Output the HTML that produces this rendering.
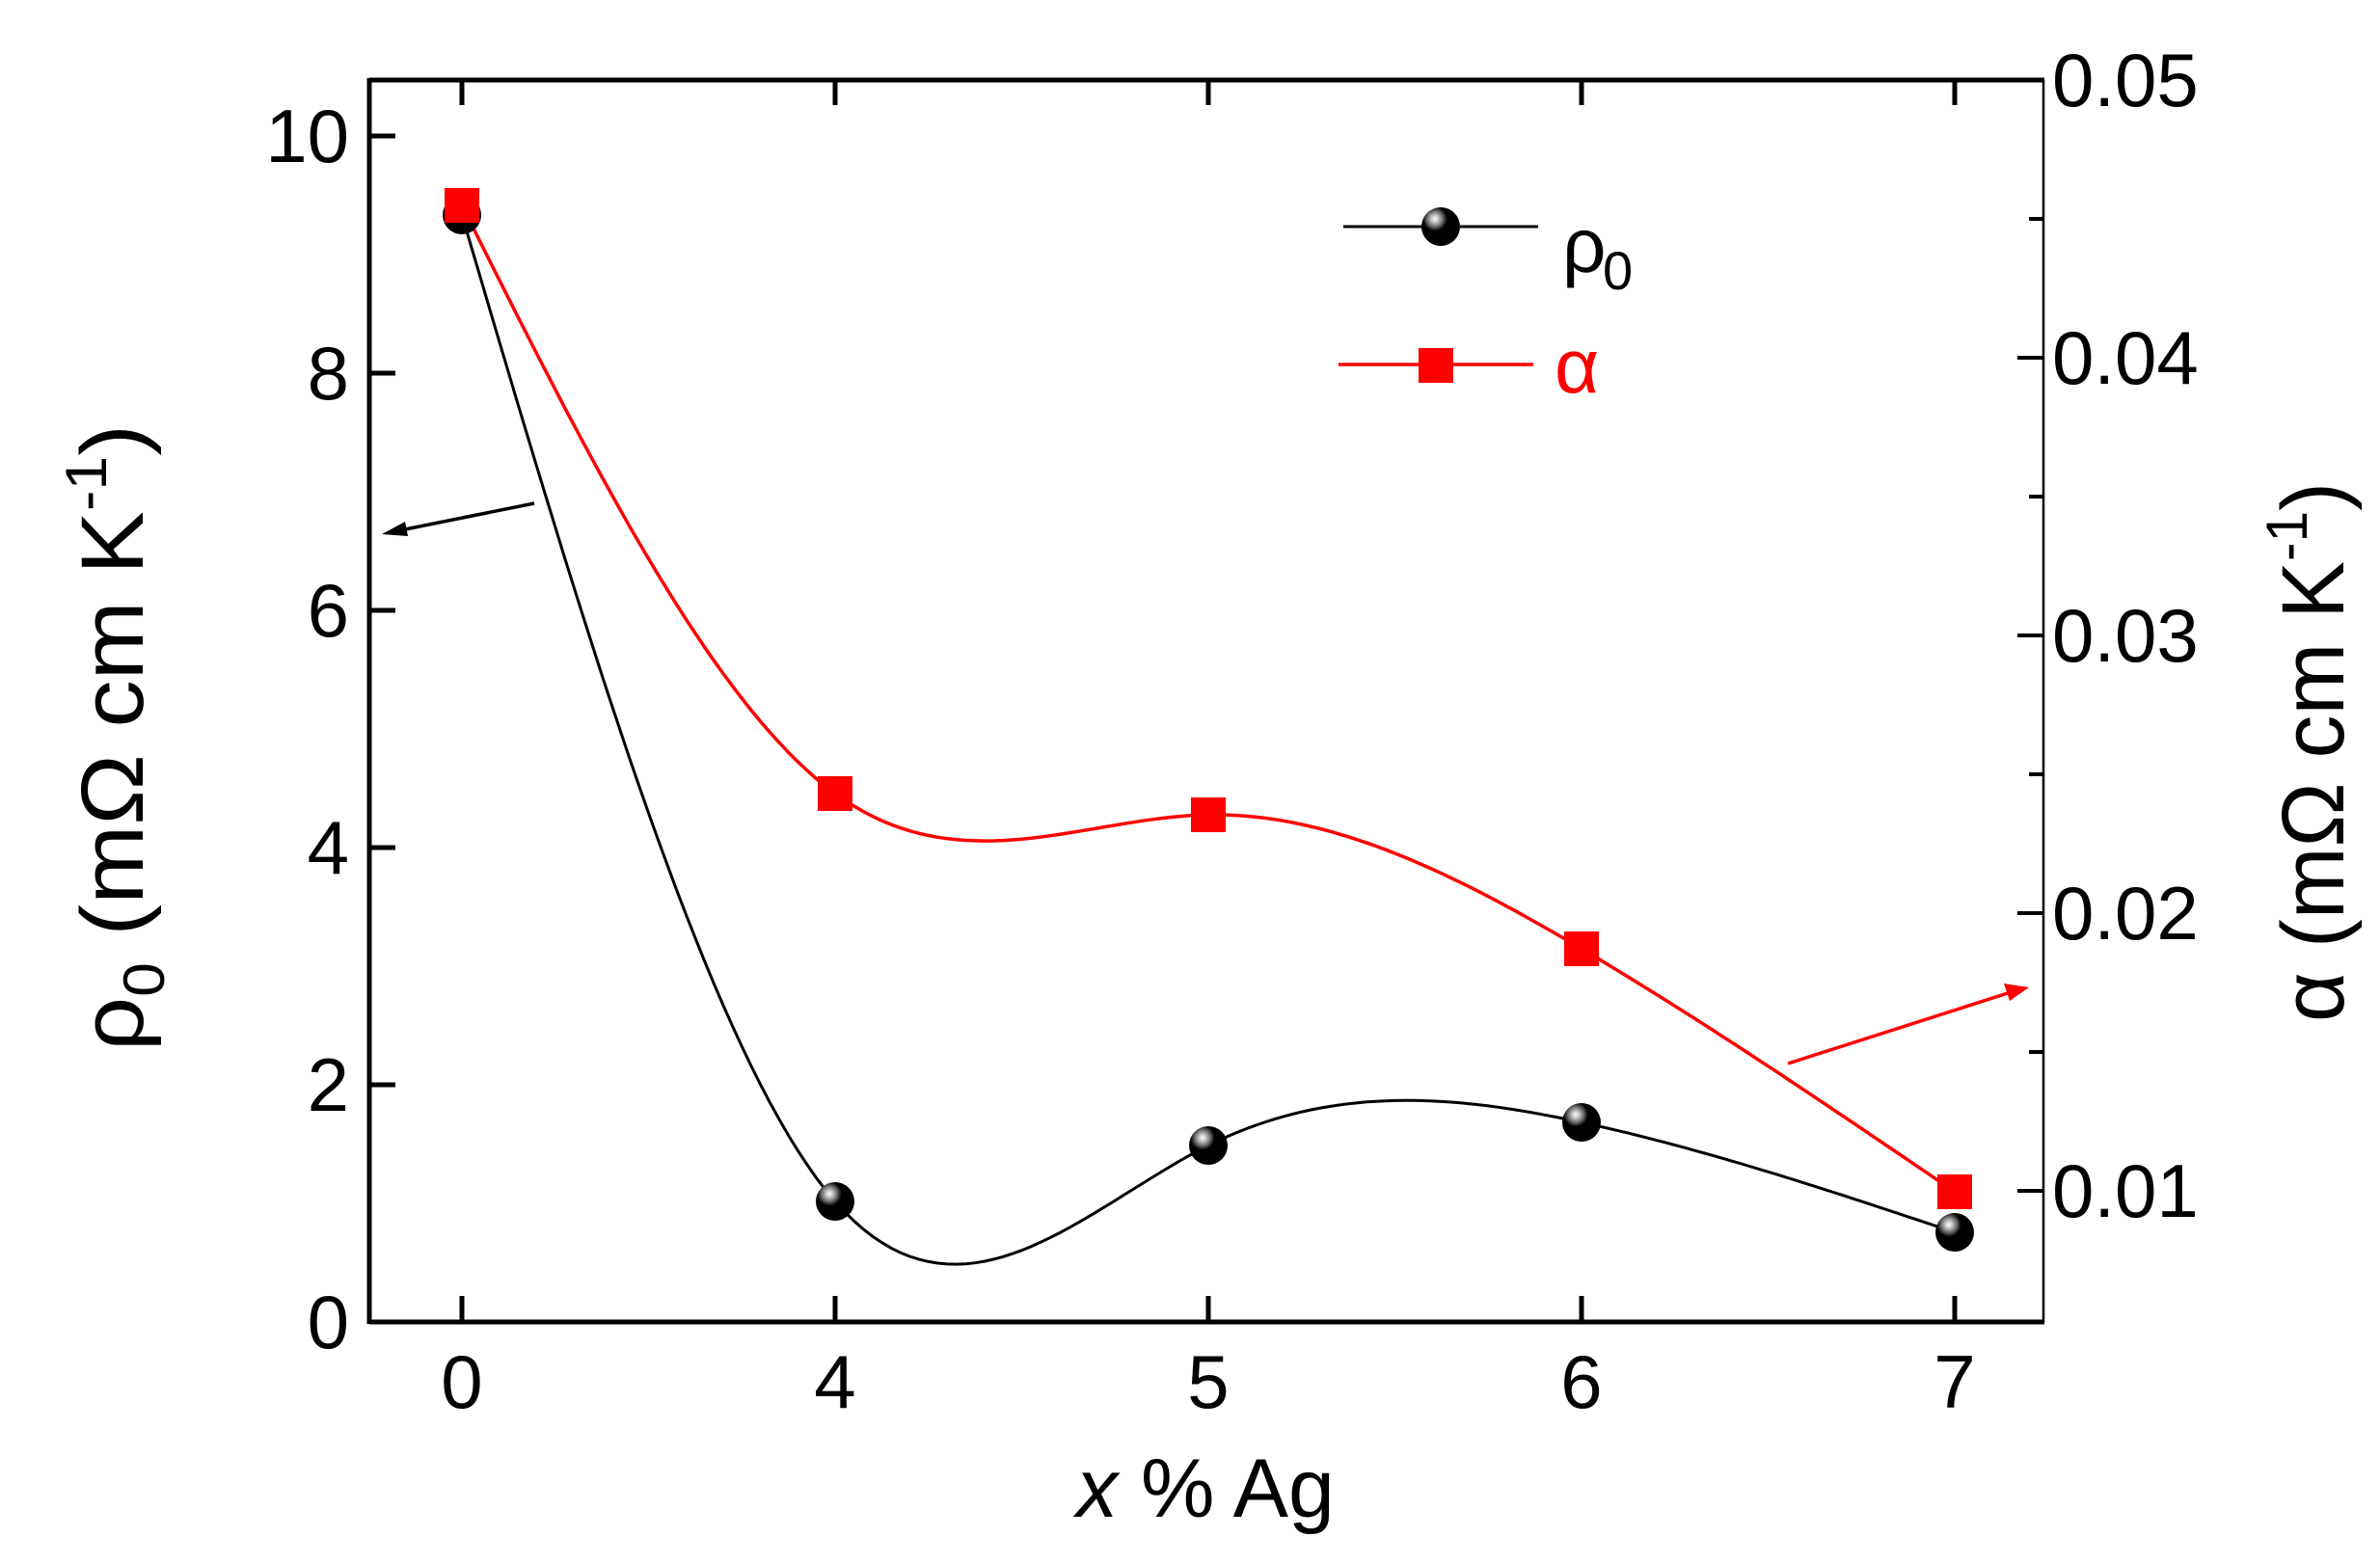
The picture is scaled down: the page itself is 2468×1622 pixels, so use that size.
<!DOCTYPE html>
<html><head><meta charset="utf-8"><style>
html,body{margin:0;padding:0;background:#fff;}
svg{display:block;}
text{font-family:"Liberation Sans",sans-serif;}
</style></head><body>
<svg id="s" width="2468" height="1622" viewBox="0 0 2468 1622" xmlns="http://www.w3.org/2000/svg">
<defs>
<radialGradient id="ball" cx="0.35" cy="0.3" r="0.7">
<stop offset="0" stop-color="#fff"/><stop offset="0.15" stop-color="#bbb"/><stop offset="0.3" stop-color="#666"/><stop offset="0.45" stop-color="#000"/><stop offset="1" stop-color="#000"/>
</radialGradient>
</defs>
<line x1="383" y1="83" x2="2120" y2="83" stroke="#000" stroke-width="5"/>
<line x1="383" y1="1371" x2="2120" y2="1371" stroke="#000" stroke-width="5"/>
<line x1="383" y1="81" x2="383" y2="1373" stroke="#000" stroke-width="5"/>
<line x1="2119" y1="83" x2="2119" y2="1371" stroke="#000" stroke-width="2.5"/>
<g stroke="#000" stroke-width="5">
<line x1="383" y1="141" x2="410" y2="141"/><line x1="383" y1="387" x2="410" y2="387"/>
<line x1="383" y1="633" x2="410" y2="633"/><line x1="383" y1="879" x2="410" y2="879"/>
<line x1="383" y1="1125" x2="410" y2="1125"/>
<line x1="479" y1="1371" x2="479" y2="1344"/><line x1="866" y1="1371" x2="866" y2="1344"/>
<line x1="1253" y1="1371" x2="1253" y2="1344"/><line x1="1640" y1="1371" x2="1640" y2="1344"/>
<line x1="2027" y1="1371" x2="2027" y2="1344"/>
<line x1="479" y1="83" x2="479" y2="109"/><line x1="866" y1="83" x2="866" y2="109"/>
<line x1="1253" y1="83" x2="1253" y2="109"/><line x1="1640" y1="83" x2="1640" y2="109"/>
<line x1="2027" y1="83" x2="2027" y2="109"/>
</g>
<g stroke="#000" stroke-width="4">
<line x1="2119" y1="83" x2="2092" y2="83"/><line x1="2119" y1="371" x2="2092" y2="371"/>
<line x1="2119" y1="659" x2="2092" y2="659"/><line x1="2119" y1="947" x2="2092" y2="947"/>
<line x1="2119" y1="1235" x2="2092" y2="1235"/>
<line x1="2119" y1="227" x2="2104" y2="227"/><line x1="2119" y1="515" x2="2104" y2="515"/>
<line x1="2119" y1="803" x2="2104" y2="803"/><line x1="2119" y1="1091" x2="2104" y2="1091"/>
</g>
<g font-size="78" text-anchor="end">
<text x="362" y="168">10</text><text x="362" y="414">8</text><text x="362" y="660">6</text>
<text x="362" y="906">4</text><text x="362" y="1152">2</text><text x="362" y="1398">0</text>
</g>
<g font-size="78" text-anchor="middle">
<text x="479" y="1460">0</text><text x="866" y="1460">4</text><text x="1253" y="1460">5</text>
<text x="1640" y="1460">6</text><text x="2027" y="1460">7</text>
</g>
<g font-size="78">
<text x="2128" y="110">0.05</text><text x="2128" y="398">0.04</text><text x="2128" y="686">0.03</text>
<text x="2128" y="974">0.02</text><text x="2128" y="1262">0.01</text>
</g>
<text x="1250" y="1573" font-size="86" text-anchor="middle"><tspan font-style="italic">x</tspan> % Ag</text>
<text transform="translate(148,1090) rotate(-90)" font-size="92" textLength="650" lengthAdjust="spacingAndGlyphs">ρ<tspan font-size="60" dy="22">0</tspan><tspan dy="-22"> (mΩ cm K</tspan><tspan font-size="60" dy="-38">-1</tspan><tspan dy="38">)</tspan></text>
<text transform="translate(2430,1060) rotate(-90)" font-size="92" textLength="560" lengthAdjust="spacingAndGlyphs">α (mΩ cm K<tspan font-size="60" dy="-38">-1</tspan><tspan dy="38">)</tspan></text>
<path id="cb" fill="none" stroke="#000" stroke-width="3"/>
<path id="cr" fill="none" stroke="#f00" stroke-width="3.5"/>
<line x1="554" y1="522" x2="410" y2="551" stroke="#000" stroke-width="3.5"/>
<polygon points="396,554 420,541 423,556" fill="#000"/>
<line x1="1854" y1="1103" x2="2085" y2="1029" stroke="#f00" stroke-width="3.5"/>
<polygon points="2104,1024 2078,1020 2084,1038" fill="#f00"/>
<g id="mk"></g>
<line x1="1393" y1="235" x2="1595" y2="235" stroke="#000" stroke-width="3"/>
<circle cx="1494" cy="235" r="20" fill="url(#ball)"/>
<text x="1620" y="282" font-size="80">ρ</text><text x="1662" y="300" font-size="56">0</text>
<line x1="1388" y1="378" x2="1590" y2="378" stroke="#f00" stroke-width="3.5"/>
<rect x="1471" y="361" width="36" height="36" fill="#f00"/>
<text x="1612" y="407" font-size="80" fill="#f00" font-family="Liberation Serif,serif">α</text>
</svg>
<script>
function spline(xs,ys){var n=xs.length,h=[],a=[],l=[1],mu=[0],z=[0],c=new Array(n).fill(0),b=[],d=[];
for(var i=0;i<n-1;i++)h[i]=xs[i+1]-xs[i];
for(i=1;i<n-1;i++)a[i]=3/h[i]*(ys[i+1]-ys[i])-3/h[i-1]*(ys[i]-ys[i-1]);
for(i=1;i<n-1;i++){l[i]=2*(xs[i+1]-xs[i-1])-h[i-1]*mu[i-1];mu[i]=h[i]/l[i];z[i]=(a[i]-h[i-1]*z[i-1])/l[i];}
l[n-1]=1;z[n-1]=0;
for(var j=n-2;j>=0;j--){c[j]=z[j]-mu[j]*c[j+1];b[j]=(ys[j+1]-ys[j])/h[j]-h[j]*(c[j+1]+2*c[j])/3;d[j]=(c[j+1]-c[j])/(3*h[j]);}
var p="M"+xs[0]+","+ys[0];
for(j=0;j<n-1;j++){for(var t=1;t<=40;t++){var dx=h[j]*t/40;p+=" L"+(xs[j]+dx).toFixed(1)+","+(ys[j]+b[j]*dx+c[j]*dx*dx+d[j]*dx*dx*dx).toFixed(1);}}
return p;}
var X=[479,866,1253,1640,2027];
var yb=[223,1246,1188,1164,1278];
var yr=[213,823,845,984,1236];
document.getElementById("cb").setAttribute("d",spline(X,yb));
document.getElementById("cr").setAttribute("d",spline(X,yr));
var g=document.getElementById("mk"),s="";
for(var i=0;i<5;i++){s+='<circle cx="'+X[i]+'" cy="'+yb[i]+'" r="20" fill="url(#ball)"/>';}
for(i=0;i<5;i++){s+='<rect x="'+(X[i]-18)+'" y="'+(yr[i]-18)+'" width="36" height="36" fill="#f00"/>';}
g.innerHTML=s;
</script>
</body></html>
